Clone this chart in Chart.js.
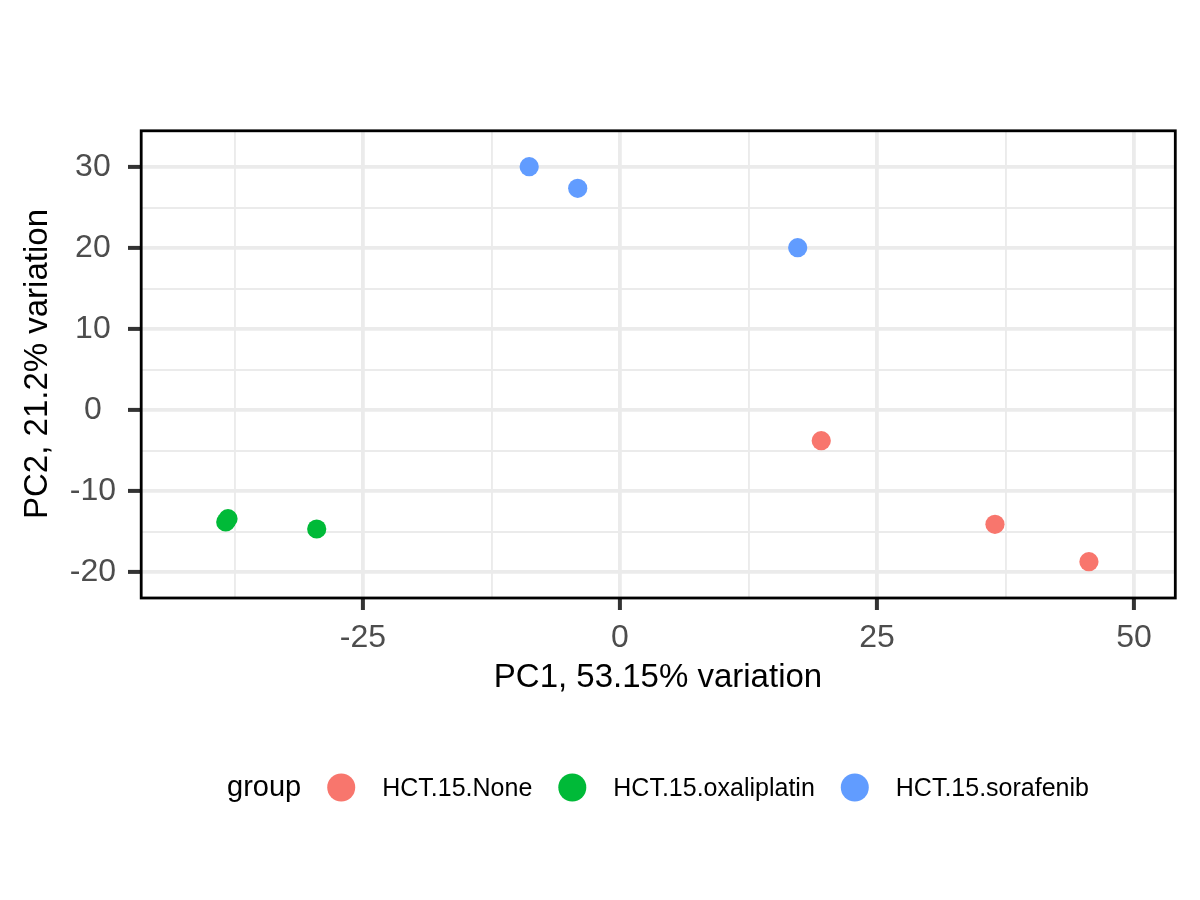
<!DOCTYPE html>
<html>
<head>
<meta charset="utf-8">
<script src="https://cdn.jsdelivr.net/npm/chart.js@4.4.1/dist/chart.umd.min.js"></script>
<style>
  html, body { margin: 0; padding: 0; background: #ffffff; }
  #pca { display: block; }
</style>
</head>
<body>
<canvas id="pca" width="1200" height="900"></canvas>
<script>
// groups and colours (ggplot default hue palette)
const groupNames = ['HCT.15.None', 'HCT.15.oxaliplatin', 'HCT.15.sorafenib'];
const groupColors = ['#F8766D', '#00BA38', '#619CFF'];

// PC1 / PC2 scores
const noneX = [19.58, 36.48, 45.62];
const noneY = [-3.79, -14.11, -18.73];
const oxaliX = [-38.13, -38.35, -29.5];
const oxaliY = [-13.42, -13.83, -14.69];
const soraX = [-8.83, -4.11, 17.29];
const soraY = [30.04, 27.37, 20.04];

// axes
const xTicks = [-37.5, -25, -12.5, 0, 12.5, 25, 37.5, 50];
const xMajor = [-25, 0, 25, 50];
const yTicks = [-20, -15, -10, -5, 0, 5, 10, 15, 20, 25, 30];
const yMajor = [-20, -10, 0, 10, 20, 30];
const xRange = [-46.69, 54.09];
const yRange = [-23.21, 34.57];
const xTitle = 'PC1, 53.15% variation';
const yTitle = 'PC2, 21.2% variation';
const legendTitle = 'group';

const FONT = "'Liberation Sans', Arial, Helvetica, sans-serif";
Chart.defaults.font.family = FONT;

function toPoints(xs, ys) {
    return xs.map((x, i) => ({ x: x, y: ys[i] }));
}

const datasets = [
    toPoints(noneX, noneY),
    toPoints(oxaliX, oxaliY),
    toPoints(soraX, soraY)
].map((pts, i) => ({
    label: groupNames[i],
    data: pts,
    backgroundColor: groupColors[i],
    borderWidth: 0,
    pointRadius: 9.6,
    pointHoverRadius: 9.6
}));

function isMajor(list, v) {
    return list.some(m => Math.abs(m - v) < 1e-9);
}

function gridFor(major) {
    return {
        color: '#EBEBEB',
        lineWidth: ctx => (ctx.tick && isMajor(major, ctx.tick.value)) ? 3.8 : 1.9,
        drawTicks: true,
        tickLength: 12,
        tickWidth: ctx => (ctx.tick && isMajor(major, ctx.tick.value)) ? 4 : 0,
        tickColor: ctx => (ctx.tick && isMajor(major, ctx.tick.value)) ? '#333333' : 'rgba(0,0,0,0)'
    };
}

// black panel border
const frame = {
    id: 'frame',
    afterDatasetsDraw(chart) {
        const a = chart.chartArea;
        const c = chart.ctx;
        c.save();
        c.strokeStyle = '#000000';
        c.lineWidth = 2.8;
        c.strokeRect(a.left + 1.2, a.top + 0.8, a.right - a.left - 1.9, a.bottom - a.top - 0.8);
        c.restore();
    }
};

// legend laid out like ggplot's bottom legend: title, then key + label
const groupLegend = {
    id: 'groupLegend',
    afterDraw(chart) {
        const c = chart.ctx;
        const a = chart.chartArea;
        const baseY = 796;
        const keyR = 14;
        const gapTitle = 26, gapKey = 27, gapItem = 26;
        const titleFont = '29px ' + FONT;
        const labelFont = '25px ' + FONT;

        c.save();
        c.font = titleFont;
        const titleW = c.measureText(legendTitle).width;
        c.font = labelFont;
        const labelW = chart.data.datasets.map(d => c.measureText(d.label).width);

        let total = titleW;
        labelW.forEach(w => { total += gapTitle + keyR * 2 + gapKey + w; });
        let x = (a.left + a.right) / 2 - total / 2;

        c.fillStyle = '#000000';
        c.textBaseline = 'alphabetic';
        c.textAlign = 'left';
        c.font = titleFont;
        c.fillText(legendTitle, x, baseY);
        x += titleW;

        chart.data.datasets.forEach((d, i) => {
            x += (i === 0 ? gapTitle : gapItem);
            c.beginPath();
            c.fillStyle = d.backgroundColor;
            c.arc(x + keyR, 787.5, keyR, 0, Math.PI * 2);
            c.fill();
            x += keyR * 2 + gapKey;
            c.fillStyle = '#000000';
            c.font = labelFont;
            c.fillText(d.label, x, baseY);
            x += labelW[i];
        });
        c.restore();
    }
};

new Chart(document.getElementById('pca'), {
    type: 'scatter',
    data: { datasets: datasets },
    options: {
        responsive: false,
        animation: false,
        devicePixelRatio: 1,
        events: [],
        layout: {
            padding: { top: 130, right: 24, bottom: 202, left: 0 }
        },
        plugins: {
            legend: { display: false },
            tooltip: { enabled: false }
        },
        scales: {
            x: {
                type: 'linear',
                min: xRange[0],
                max: xRange[1],
                afterBuildTicks: scale => { scale.ticks = xTicks.map(v => ({ value: v })); },
                afterFit: scale => { scale.height = 100; },
                grid: gridFor(xMajor),
                border: { display: false },
                ticks: {
                    padding: 9,
                    color: '#4D4D4D',
                    font: { size: 32 },
                    maxRotation: 0,
                    autoSkip: false,
                    callback: v => isMajor(xMajor, v) ? String(v) : ''
                },
                title: {
                    display: true,
                    text: xTitle,
                    color: '#000000',
                    font: { size: 33 },
                    padding: { top: 0, bottom: 0 }
                }
            },
            y: {
                type: 'linear',
                min: yRange[0],
                max: yRange[1],
                afterBuildTicks: scale => { scale.ticks = yTicks.map(v => ({ value: v })); },
                afterFit: scale => { scale.width = 140; },
                grid: gridFor(yMajor),
                border: { display: false },
                ticks: {
                    padding: 12,
                    crossAlign: 'center',
                    color: '#4D4D4D',
                    font: { size: 32 },
                    autoSkip: false,
                    callback: v => isMajor(yMajor, v) ? String(v) : ''
                },
                title: {
                    display: true,
                    text: yTitle,
                    color: '#000000',
                    font: { size: 33 },
                    padding: { top: 18, bottom: 0 }
                }
            }
        }
    },
    plugins: [frame, groupLegend]
});
</script>
</body>
</html>
